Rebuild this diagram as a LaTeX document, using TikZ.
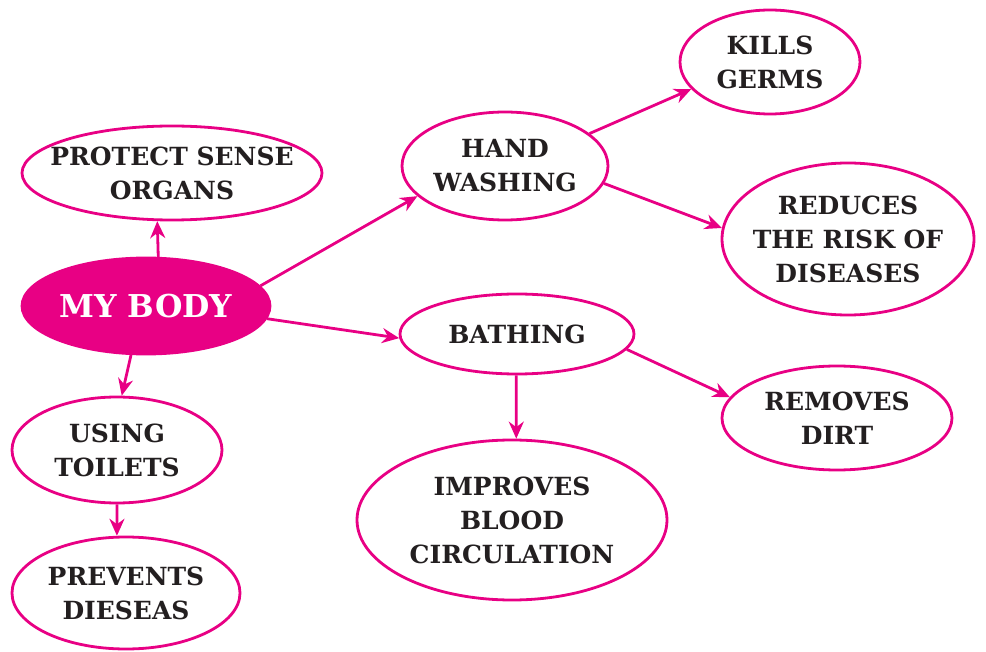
\documentclass[tikz,border=0pt]{standalone}
\usepackage{fontspec}
\setmainfont{DejaVu Serif}
\usetikzlibrary{shapes.geometric,arrows.meta}
\definecolor{bodypink}{RGB}{232,0,132}
\definecolor{inktext}{RGB}{35,31,32}
\tikzset{%
    idea/.style={
      ellipse,
      draw=bodypink,
      line width=2.8pt,
      inner sep=-40pt,
      text=inktext,
      align=center,
      font=\fontsize{25}{34}\selectfont\bfseries
    },
    main idea/.style={
      idea,
      fill=bodypink,
      text=white,
      font=\fontsize{31.5}{36}\selectfont\bfseries
    },
    link/.style={
      ->,
      draw=bodypink,
      line width=2.8pt
    }
  }
\begin{document}
\begin{tikzpicture}[x=1pt, y=-1pt, >={Stealth[length=17pt,width=15pt]}]
      \useasboundingbox (0,0) rectangle (986,652);

      \node [main idea, minimum width=248pt, minimum height=96pt] (body) at (146,306) {MY BODY};

      \node [idea, minimum width=300pt, minimum height=94pt] (sense) at (172,173) {PROTECT SENSE\\ORGANS};
      \node [idea, minimum width=206pt, minimum height=108pt] (hand) at (505,166) {HAND\\WASHING};
      \node [idea, minimum width=180pt, minimum height=104pt] (germs) at (770,62) {KILLS\\GERMS};
      \node [idea, minimum width=252pt, minimum height=152pt] (risk) at (848,239) {REDUCES\\THE RISK OF\\DISEASES};

      \node [idea, minimum width=234pt, minimum height=80pt] (bath) at (517,334) {BATHING};
      \node [idea, minimum width=230pt, minimum height=104pt] (dirt) at (837,418) {REMOVES\\DIRT};
      \node [idea, minimum width=310pt, minimum height=160pt] (blood) at (512,520) {IMPROVES\\BLOOD\\CIRCULATION};

      \node [idea, minimum width=210pt, minimum height=106pt] (toilet) at (117,450) {USING\\TOILETS};
      \node [idea, minimum width=228pt, minimum height=112pt] (prevent) at (126,593) {PREVENTS\\DIESEAS};

      \draw [link] (body.76) -- (sense.253);
      \draw [link] (body.10) -- (hand.199);
      \draw [link] (body.354) -- (bath.182);
      \draw [link] (body.253) -- (toilet.85);

      \draw [link] (toilet.270) -- (prevent.99);

      \draw [link] (hand.21) -- (germs.199);
      \draw [link] (hand.350) -- (risk.175);

      \draw [link] (bath.269) -- (blood.87);
      \draw [link] (bath.352) -- (dirt.169);
    \end{tikzpicture}
\end{document}
